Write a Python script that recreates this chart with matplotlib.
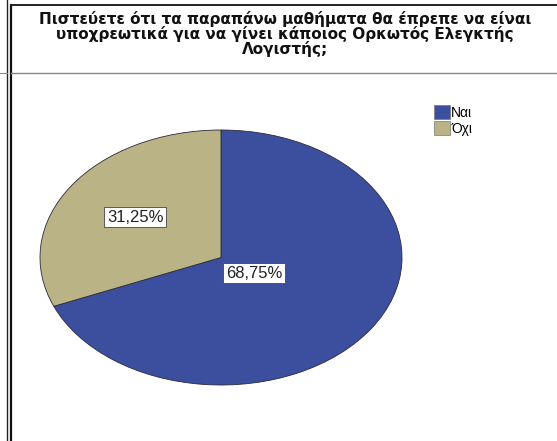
import matplotlib
matplotlib.use("Agg")
import matplotlib.pyplot as plt
from matplotlib.lines import Line2D
import numpy as np

plt.rcParams['font.family'] = ['Liberation Sans', 'DejaVu Sans']

title = ("Πιστεύετε ότι τα παραπάνω μαθήματα θα έπρεπε να είναι\n"
         "υποχρεωτικά για να γίνει κάποιος Ορκωτός Ελεγκτής\n"
         "Λογιστής;")
categories = ["Ναι", "Όχι"]
shares = [68.75, 31.25]
pct_labels = ["68,75%", "31,25%"]
colors = ["#3b4f9e", "#b9b385"]

W, H = 557, 441
fig = plt.figure(figsize=(W / 100, H / 100), dpi=100)
fig.patch.set_facecolor("white")


def px_line(x0, y0, x1, y1, color, lw):
    fig.add_artist(Line2D([x0 / W, x1 / W], [1 - y0 / H, 1 - y1 / H],
                          transform=fig.transFigure, color=color, lw=lw))


# frame lines around the chart panel
px_line(6.5, 0, 6.5, H, "#222222", 1.0)
px_line(0, 72.5, 6.5, 72.5, "#888888", 0.8)
px_line(11, 5, 11, H, "#111111", 1.6)
px_line(11, 5, W, 5, "#222222", 1.4)
px_line(11, 73, W, 73, "#888888", 1.0)

fig.text(285 / W, 1 - 34 / H, title, ha="center", va="center",
         fontsize=11, fontweight="bold", linespacing=0.9, color="#111111",
         family="DejaVu Sans")

# pie drawn in an axes with free aspect so it comes out elliptical
ax = fig.add_axes([40 / W, 1 - 385 / H, 362 / W, 255 / H])
wedges, _ = ax.pie(shares, colors=colors, startangle=90, counterclock=False,
                   radius=1.0,
                   wedgeprops=dict(edgecolor="#2a2a3a", linewidth=0.6))
ax.set_aspect("auto")
ax.set_xlim(-1, 1)
ax.set_ylim(-1, 1)
ax.axis("off")

label_r = [0.22, 0.57]
for w, txt, r in zip(wedges, pct_labels, label_r):
    mid = np.deg2rad((w.theta1 + w.theta2) / 2)
    ax.text(r * np.cos(mid), r * np.sin(mid), txt, ha="center", va="center",
            fontsize=12, color="#222222",
            bbox=dict(boxstyle="square,pad=0.15", fc="white", ec="#444444", lw=0.6))

# legend
leg = fig.legend(wedges, categories, loc="upper left",
                 bbox_to_anchor=(427 / W, 1 - 98 / H), frameon=False,
                 fontsize=10, handlelength=1.15, handleheight=1.15,
                 handletextpad=0.1, labelspacing=0.1, borderpad=0)
for h in leg.legend_handles:
    h.set_edgecolor("#777777")
    h.set_linewidth(0.5)

fig.savefig("out.png", dpi=100, facecolor="white")
